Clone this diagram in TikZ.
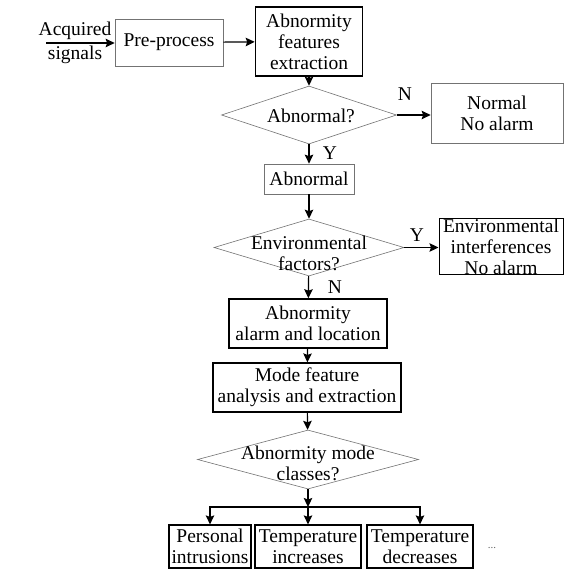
\documentclass[tikz,border=0pt]{standalone}
\usepackage{fontspec}
\setmainfont{Liberation Serif}
\usetikzlibrary{shapes.geometric,arrows.meta}
\begin{document}
\begin{tikzpicture}[x=1pt,y=-1pt,
  every node/.style={font=\fontsize{19.5}{21}\selectfont, align=center, inner sep=0pt},
  graybox/.style={draw=black!55, line width=0.7pt, rectangle},
  thickbox/.style={draw=black, line width=1.6pt, rectangle},
  midbox/.style={draw=black, line width=1.2pt, rectangle},
  dia/.style={draw=black!55, line width=0.6pt, shape=diamond, inner sep=0pt},
  arr/.style={draw=black, line width=1.2pt, -{Stealth[length=9pt,width=8.5pt,inset=1.5pt]}},
  lab/.style={font=\fontsize{19.5}{21}\selectfont}
]
\useasboundingbox (0,0) rectangle (570,570);

\node (acq) at (75,43) {Acquired\\[3pt]signals};
\coordinate (acqs) at (46,43);
\node[graybox, minimum width=108pt, minimum height=47pt] (pre) at (169,42.5) {Pre-process};
\node[thickbox, minimum width=107pt, minimum height=69pt] (afe) at (309,41.5) {Abnormity\\features\\extraction};

\node[dia, minimum width=175pt, minimum height=58pt] (d1) at (309,115) {};
\node (d1t) at (311,116) {Abnormal?};
\node[graybox, minimum width=132pt, minimum height=60pt] (nor) at (497,113) {Normal\\No alarm};

\node[graybox, minimum width=90pt, minimum height=30pt] (abn) at (309,179) {Abnormal};

\node[dia, minimum width=190pt, minimum height=57pt] (d2) at (309,247.5) {};
\node (d2t) at (309,253) {Environmental\\factors?};
\node[draw=black, line width=1pt, minimum width=124pt, minimum height=55pt] (env) at (501,246.5) {Environmental\\interferences\\No alarm};

\node[thickbox, minimum width=158pt, minimum height=49pt] (aal) at (308,323.5) {Abnormity\\alarm and location};
\node[midbox, minimum width=188pt, minimum height=49pt] (mfa) at (307,387.5) {Mode feature\\analysis and extraction};

\node[dia, minimum width=221pt, minimum height=59pt] (d3) at (308,459.5) {};
\node (d3t) at (308,463) {Abnormity mode\\classes?};

\node[midbox, minimum width=82pt, minimum height=43pt] (p1) at (210,546.5) {Personal\\intrusions};
\node[midbox, minimum width=106pt, minimum height=43pt] (p2) at (308,546.5) {Temperature\\increases};
\node[midbox, minimum width=106pt, minimum height=43pt] (p3) at (420,546.5) {Temperature\\decreases};
\node[font=\fontsize{11}{12}\selectfont, text=black!60] (dots) at (492,548) {...};

\coordinate (br) at (308,507);

\draw[arr] (acqs) -- (acqs -| pre.west);
\draw[arr] (pre) -- (afe);
\draw[arr] (afe) -- (d1);
\draw[arr] (d1.east) -- (d1.east -| nor.west);
\draw[arr] (d1) -- (abn);
\draw[arr] (abn) -- (d2);
\draw[arr] (d2.east) -- (d2.east -| env.west);
\draw[arr] (d2) -- (aal);
\draw[arr] (aal) -- (mfa);
\draw[arr] (mfa) -- (d3);
\draw[arr] (d3.south) -- (br);
\draw[arr] (br) -| (p1.north);
\draw[arr] (br) -| (p3.north);
\draw[arr] (br) -- (p2.north);

\node[lab] (lN1) at (405,94) {N};
\node[lab] (lY1) at (330,153) {Y};
\node[lab] (lY2) at (417,235) {Y};
\node[lab] (lN2) at (335,287) {N};
\end{tikzpicture}
\end{document}
